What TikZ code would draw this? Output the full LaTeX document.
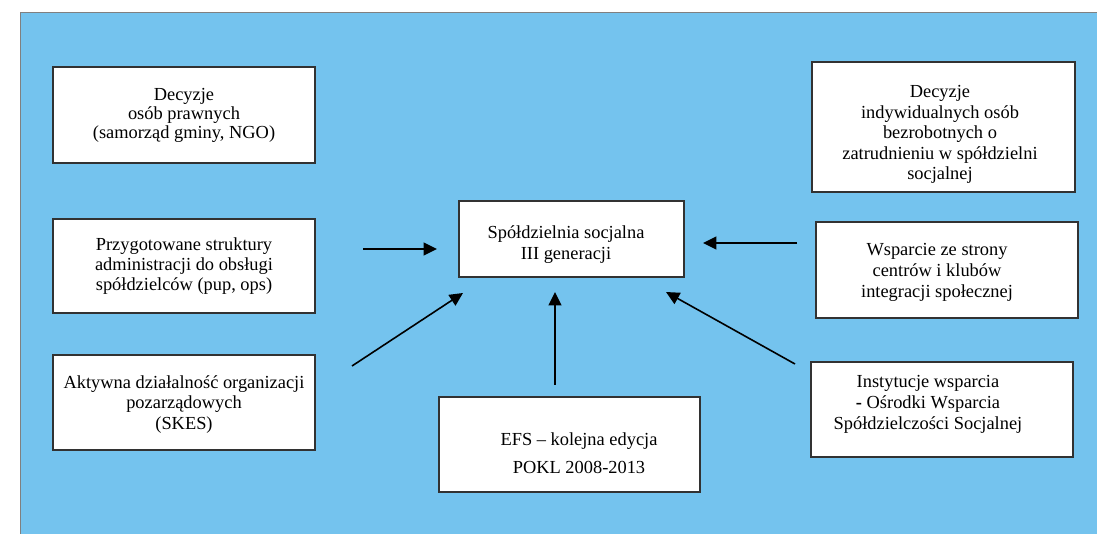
\documentclass[tikz,border=0pt]{standalone}
\usepackage{fontspec}
\setmainfont{Liberation Serif}
\usetikzlibrary{arrows.meta}
\definecolor{bgblue}{RGB}{116,195,238}
\definecolor{edgegray}{RGB}{50,50,50}
\begin{document}
\begin{tikzpicture}[x=0.75pt,y=-0.75pt,
  box/.style={draw=edgegray, line width=0.8pt, fill=white, inner sep=0pt, outer sep=0pt},
  txt/.style={align=center, anchor=base, inner sep=0pt},
  arr/.style={line width=1.2pt, -{Triangle[length=10pt,width=9.5pt]}}]
\useasboundingbox (0,0) rectangle (1097,534);
\fill[bgblue] (20.5,12.5) rectangle (1097,534);
\draw[gray, line width=1.2pt] (20.5,534) -- (20.5,12.5) -- (1097,12.5);

% boxes
\node[box, minimum width=196.5pt, minimum height=72pt] (b1) at (184,115) {};
\node[box, minimum width=196.5pt, minimum height=70.5pt] (b2) at (184,266) {};
\node[box, minimum width=196.5pt, minimum height=71.25pt] (b3) at (184,402.5) {};
\node[box, minimum width=168.75pt, minimum height=57pt] (c) at (571.5,239) {};
\node[box, minimum width=195.75pt, minimum height=71.25pt] (efs) at (569.5,444.5) {};
\node[box, minimum width=197.25pt, minimum height=97.5pt] (b6) at (943.5,127) {};
\node[box, minimum width=196.5pt, minimum height=72pt] (b7) at (947,270) {};
\node[box, minimum width=196.5pt, minimum height=71.25pt] (b8) at (942,409.5) {};

% texts (anchor = baseline of the last line)
\node[txt, font=\fontsize{13.8}{14.25}\selectfont] (t1) at (184,139)
  {Decyzje\\osób prawnych\\(samorząd gminy, NGO)};
\node[txt, font=\fontsize{13.8}{15}\selectfont] (t2) at (184,290.5)
  {Przygotowane struktury\\administracji do obsługi\\spółdzielców (pup, ops)};
\node[txt, font=\fontsize{13.8}{15.4}\selectfont] (t3) at (184,429.5)
  {Aktywna działalność organizacji\\pozarządowych\\(SKES)};
\node[txt, font=\fontsize{13.8}{15.75}\selectfont] (tc) at (566,259.5)
  {Spółdzielnia socjalna\\III generacji};
\node[txt, font=\fontsize{13.8}{21}\selectfont] (tefs) at (579,473.5)
  {EFS – kolejna edycja\\POKL 2008-2013};
\node[txt, font=\fontsize{13.8}{15.4}\selectfont] (t6) at (940,180)
  {Decyzje\\indywidualnych osób\\bezrobotnych o\\zatrudnieniu w spółdzielni\\socjalnej};
\node[txt, font=\fontsize{13.8}{15.75}\selectfont] (t7) at (937,297.5)
  {Wsparcie ze strony\\centrów i klubów\\integracji społecznej};
\node[txt, font=\fontsize{13.8}{15.75}\selectfont] (t8) at (928,429.5)
  {Instytucje wsparcia\\{\bfseries -} Ośrodki Wsparcia\\Spółdzielczości Socjalnej};

% arrow endpoints
\coordinate (a1s) at (363,249); \coordinate (a1e) at (437,249);
\coordinate (a2s) at (797,243); \coordinate (a2e) at (703,243);
\coordinate (a3s) at (352,366); \coordinate (a3e) at (463,293);
\coordinate (a4s) at (555,385); \coordinate (a4e) at (555,292);
\coordinate (a5s) at (795,364); \coordinate (a5e) at (666,292);

\draw[arr] (a1s) -- (a1e);
\draw[arr] (a2s) -- (a2e);
\draw[arr] (a3s) -- (a3e);
\draw[arr] (a4s) -- (a4e);
\draw[arr] (a5s) -- (a5e);
\end{tikzpicture}
\end{document}
